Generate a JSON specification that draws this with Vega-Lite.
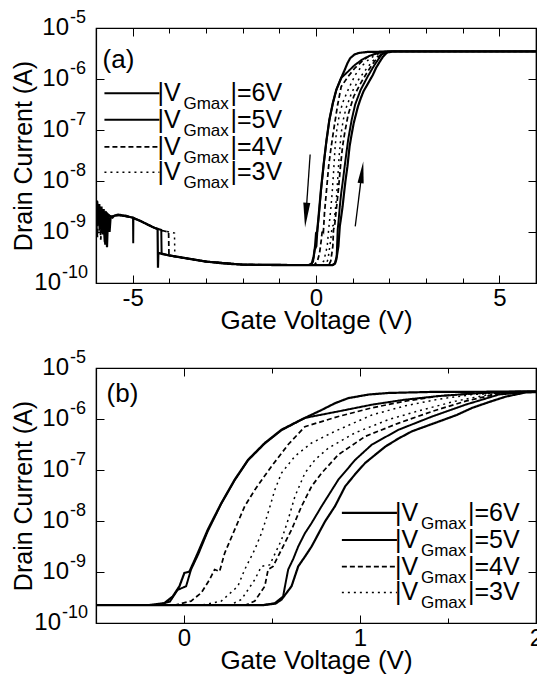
{
  "$schema": "https://vega.github.io/schema/vega-lite/v6.json",
  "background": "white",
  "padding": {"left": 10, "top": 8, "right": 0, "bottom": 0},
  "spacing": 14,
  "config": {
    "font": "Liberation Sans",
    "view": {"stroke": "black", "strokeWidth": 1.2},
    "axis": {
      "grid": false, "domainColor": "black", "domainWidth": 1.2, "tickColor": "black", "tickWidth": 1,
      "labelColor": "black", "titleColor": "black", "labelFont": "Liberation Sans", "titleFont": "Liberation Sans",
      "labelFontSize": 24, "titleFontSize": 25, "titleFontWeight": "normal", "labelFlush": false, "labelOverlap": false
    },
    "text": {"font": "Liberation Sans", "color": "black"}
  },
  "datasets": {
    "curves": [
      {"s":"6V","o":1,"v":-6.00,"i":2.82e-9},{"s":"6V","o":2,"v":-5.985,"i":4.2e-9},{"s":"6V","o":2.5,"v":-5.975,"i":1.3e-9},{"s":"6V","o":2.7,"v":-5.965,"i":3.98e-9},{"s":"6V","o":3,"v":-5.94,"i":1.585e-9},{"s":"6V","o":4,"v":-5.91,"i":3.55e-9},{"s":"6V","o":5,"v":-5.88,"i":1.12e-9},{"s":"6V","o":6,"v":-5.85,"i":3.16e-9},{"s":"6V","o":7,"v":-5.82,"i":8.91e-10},{"s":"6V","o":8,"v":-5.79,"i":2.82e-9},{"s":"6V","o":9,"v":-5.76,"i":6.31e-10},{"s":"6V","o":10,"v":-5.73,"i":2.51e-9},{"s":"6V","o":11,"v":-5.70,"i":5.01e-10},{"s":"6V","o":12,"v":-5.67,"i":2.24e-9},{"s":"6V","o":13,"v":-5.63,"i":1.0e-9},{"s":"6V","o":14,"v":-5.60,"i":2.0e-9},{"s":"6V","o":15,"v":-5.55,"i":1.91e-9},{"s":"6V","o":16,"v":-5.50,"i":2.09e-9},{"s":"6V","o":17,"v":-5.40,"i":2.19e-9},{"s":"6V","o":18,"v":-5.20,"i":2.09e-9},{"s":"6V","o":19,"v":-5.00,"i":1.91e-9},{"s":"6V","o":20,"v":-4.80,"i":1.66e-9},{"s":"6V","o":21,"v":-4.60,"i":1.41e-9},{"s":"6V","o":22,"v":-4.40,"i":1.20e-9},{"s":"6V","o":23,"v":-4.32,"i":1.15e-9},{"s":"6V","o":24,"v":-4.31,"i":2.0e-10},{"s":"6V","o":25,"v":-4.30,"i":3.89e-10},{"s":"6V","o":26,"v":-4.0,"i":3.47e-10},{"s":"6V","o":27,"v":-3.5,"i":3.02e-10},{"s":"6V","o":28,"v":-3.0,"i":2.63e-10},{"s":"6V","o":29,"v":-2.5,"i":2.40e-10},{"s":"6V","o":30,"v":-2.0,"i":2.29e-10},{"s":"6V","o":31,"v":-1.0,"i":2.24e-10},{"s":"6V","o":32,"v":0.45,"i":2.24e-10},
      {"s":"6V","o":33,"v":0.52,"i":2.40e-10},{"s":"6V","o":34,"v":0.554,"i":2.88e-10},{"s":"6V","o":35,"v":0.611,"i":5.25e-10},{"s":"6V","o":36,"v":0.649,"i":1.29e-9},{"s":"6V","o":37,"v":0.687,"i":2.0e-9},{"s":"6V","o":38,"v":0.725,"i":3.16e-9},{"s":"6V","o":39,"v":0.801,"i":9.77e-9},{"s":"6V","o":40,"v":0.858,"i":1.95e-8},{"s":"6V","o":41,"v":0.916,"i":4.79e-8},{"s":"6V","o":42,"v":0.973,"i":8.32e-8},{"s":"6V","o":43,"v":1.03,"i":1.38e-7},{"s":"6V","o":44,"v":1.144,"i":2.88e-7},{"s":"6V","o":45,"v":1.22,"i":4.17e-7},{"s":"6V","o":46,"v":1.296,"i":5.75e-7},{"s":"6V","o":47,"v":1.448,"i":8.91e-7},{"s":"6V","o":48,"v":1.55,"i":1.20e-6},{"s":"6V","o":49,"v":1.639,"i":1.66e-6},{"s":"6V","o":50,"v":1.74,"i":2.19e-6},{"s":"6V","o":51,"v":1.829,"i":2.75e-6},{"s":"6V","o":52,"v":1.94,"i":3.31e-6},{"s":"6V","o":53,"v":2.1,"i":3.47e-6},{"s":"6V","o":54,"v":6.0,"i":3.47e-6},
      {"s":"6V","o":55,"v":2.1,"i":3.47e-6},{"s":"6V","o":56,"v":1.4,"i":3.39e-6},{"s":"6V","o":57,"v":1.163,"i":3.24e-6},{"s":"6V","o":58,"v":1.05,"i":3.02e-6},{"s":"6V","o":59,"v":0.934,"i":2.57e-6},{"s":"6V","o":60,"v":0.858,"i":2.04e-6},{"s":"6V","o":61,"v":0.783,"i":1.51e-6},{"s":"6V","o":62,"v":0.668,"i":9.77e-7},{"s":"6V","o":63,"v":0.554,"i":6.17e-7},{"s":"6V","o":64,"v":0.459,"i":3.39e-7},{"s":"6V","o":65,"v":0.364,"i":1.585e-7},{"s":"6V","o":66,"v":0.288,"i":6.46e-8},{"s":"6V","o":67,"v":0.212,"i":2.24e-8},{"s":"6V","o":68,"v":0.135,"i":6.76e-9},{"s":"6V","o":69,"v":0.078,"i":2.34e-9},{"s":"6V","o":70,"v":0.031,"i":1.02e-9},{"s":"6V","o":71,"v":0.002,"i":9.55e-10},{"s":"6V","o":72,"v":-0.026,"i":5.25e-10},{"s":"6V","o":73,"v":-0.064,"i":3.31e-10},{"s":"6V","o":74,"v":-0.112,"i":2.45e-10},{"s":"6V","o":75,"v":-0.2,"i":2.24e-10},{"s":"6V","o":76,"v":-2.0,"i":2.29e-10},{"s":"6V","o":77,"v":-3.0,"i":2.63e-10},{"s":"6V","o":78,"v":-4.0,"i":3.47e-10},{"s":"6V","o":79,"v":-4.30,"i":3.89e-10},

      {"s":"5V","o":1,"v":-6.00,"i":1.12e-9},{"s":"5V","o":2,"v":-5.95,"i":3.16e-9},{"s":"5V","o":3,"v":-5.90,"i":1.07e-9},{"s":"5V","o":4,"v":-5.85,"i":2.51e-9},{"s":"5V","o":5,"v":-5.80,"i":2.24e-9},{"s":"5V","o":6,"v":-5.75,"i":5.62e-10},{"s":"5V","o":7,"v":-5.72,"i":2.40e-9},{"s":"5V","o":8,"v":-5.60,"i":2.0e-9},{"s":"5V","o":9,"v":-5.40,"i":2.14e-9},{"s":"5V","o":10,"v":-5.20,"i":2.04e-9},{"s":"5V","o":11,"v":-4.99,"i":1.91e-9},{"s":"5V","o":12,"v":-4.985,"i":6.03e-10},{"s":"5V","o":13,"v":-4.98,"i":1.86e-9},{"s":"5V","o":14,"v":-4.80,"i":1.66e-9},{"s":"5V","o":15,"v":-4.60,"i":1.41e-9},{"s":"5V","o":16,"v":-4.40,"i":1.20e-9},{"s":"5V","o":17,"v":-4.22,"i":1.10e-9},{"s":"5V","o":18,"v":-4.21,"i":3.72e-10},{"s":"5V","o":19,"v":-4.0,"i":3.47e-10},{"s":"5V","o":20,"v":-3.0,"i":2.63e-10},{"s":"5V","o":21,"v":-2.0,"i":2.29e-10},{"s":"5V","o":22,"v":0.45,"i":2.24e-10},
      {"s":"5V","o":23,"v":0.516,"i":2.45e-10},{"s":"5V","o":24,"v":0.563,"i":3.31e-10},{"s":"5V","o":25,"v":0.577,"i":6.03e-10},{"s":"5V","o":26,"v":0.592,"i":1.12e-9},{"s":"5V","o":27,"v":0.62,"i":1.78e-9},{"s":"5V","o":28,"v":0.649,"i":3.16e-9},{"s":"5V","o":29,"v":0.687,"i":5.75e-9},{"s":"5V","o":30,"v":0.725,"i":9.12e-9},{"s":"5V","o":31,"v":0.782,"i":1.95e-8},{"s":"5V","o":32,"v":0.877,"i":6.46e-8},{"s":"5V","o":33,"v":0.973,"i":1.585e-7},{"s":"5V","o":34,"v":1.068,"i":3.16e-7},{"s":"5V","o":35,"v":1.22,"i":6.17e-7},{"s":"5V","o":36,"v":1.41,"i":1.12e-6},{"s":"5V","o":37,"v":1.60,"i":1.91e-6},{"s":"5V","o":38,"v":1.79,"i":3.02e-6},{"s":"5V","o":39,"v":1.95,"i":3.39e-6},{"s":"5V","o":40,"v":2.1,"i":3.47e-6},{"s":"5V","o":41,"v":6.0,"i":3.47e-6},
      {"s":"5V","o":42,"v":2.1,"i":3.47e-6},{"s":"5V","o":43,"v":1.9,"i":3.47e-6},{"s":"5V","o":44,"v":1.639,"i":3.16e-6},{"s":"5V","o":45,"v":1.448,"i":2.82e-6},{"s":"5V","o":46,"v":1.258,"i":2.40e-6},{"s":"5V","o":47,"v":1.068,"i":1.91e-6},{"s":"5V","o":48,"v":0.877,"i":1.41e-6},{"s":"5V","o":49,"v":0.687,"i":1.05e-6},{"s":"5V","o":50,"v":0.554,"i":6.03e-7},{"s":"5V","o":51,"v":0.459,"i":3.31e-7},{"s":"5V","o":52,"v":0.364,"i":1.55e-7},{"s":"5V","o":53,"v":0.288,"i":6.31e-8},{"s":"5V","o":54,"v":0.212,"i":2.19e-8},{"s":"5V","o":55,"v":0.135,"i":6.31e-9},{"s":"5V","o":56,"v":0.08,"i":2.19e-9},{"s":"5V","o":57,"v":0.04,"i":1.12e-9},{"s":"5V","o":58,"v":0.012,"i":5.25e-10},{"s":"5V","o":59,"v":-0.036,"i":4.47e-10},{"s":"5V","o":60,"v":-0.08,"i":2.63e-10},{"s":"5V","o":61,"v":-0.15,"i":2.24e-10},{"s":"5V","o":62,"v":-2.0,"i":2.29e-10},{"s":"5V","o":63,"v":-3.0,"i":2.63e-10},{"s":"5V","o":64,"v":-4.0,"i":3.47e-10},{"s":"5V","o":65,"v":-4.21,"i":3.72e-10},

      {"s":"4V","o":1,"v":-6.00,"i":2.0e-9},{"s":"4V","o":2,"v":-5.96,"i":7.94e-10},{"s":"4V","o":3,"v":-5.92,"i":3.55e-9},{"s":"4V","o":4,"v":-5.87,"i":7.08e-10},{"s":"4V","o":5,"v":-5.83,"i":2.51e-9},{"s":"4V","o":6,"v":-5.78,"i":1.26e-9},{"s":"4V","o":7,"v":-5.74,"i":2.40e-9},{"s":"4V","o":8,"v":-5.60,"i":2.0e-9},{"s":"4V","o":9,"v":-5.40,"i":2.14e-9},{"s":"4V","o":10,"v":-5.20,"i":2.04e-9},{"s":"4V","o":11,"v":-5.00,"i":1.91e-9},{"s":"4V","o":12,"v":-4.80,"i":1.66e-9},{"s":"4V","o":13,"v":-4.60,"i":1.41e-9},{"s":"4V","o":14,"v":-4.40,"i":1.20e-9},{"s":"4V","o":15,"v":-4.20,"i":1.07e-9},{"s":"4V","o":16,"v":-4.02,"i":1.0e-9},{"s":"4V","o":17,"v":-4.01,"i":3.47e-10},{"s":"4V","o":18,"v":-3.0,"i":2.63e-10},{"s":"4V","o":19,"v":-2.0,"i":2.29e-10},{"s":"4V","o":20,"v":0.35,"i":2.24e-10},
      {"s":"4V","o":21,"v":0.402,"i":2.69e-10},{"s":"4V","o":22,"v":0.459,"i":5.25e-10},{"s":"4V","o":23,"v":0.478,"i":1.12e-9},{"s":"4V","o":24,"v":0.506,"i":1.29e-9},{"s":"4V","o":25,"v":0.554,"i":2.75e-9},{"s":"4V","o":26,"v":0.611,"i":6.76e-9},{"s":"4V","o":27,"v":0.668,"i":1.95e-8},{"s":"4V","o":28,"v":0.725,"i":4.79e-8},{"s":"4V","o":29,"v":0.782,"i":8.71e-8},{"s":"4V","o":30,"v":0.877,"i":2.0e-7},{"s":"4V","o":31,"v":1.03,"i":4.57e-7},{"s":"4V","o":32,"v":1.22,"i":8.32e-7},{"s":"4V","o":33,"v":1.41,"i":1.41e-6},{"s":"4V","o":34,"v":1.60,"i":2.24e-6},{"s":"4V","o":35,"v":1.79,"i":3.16e-6},{"s":"4V","o":36,"v":1.95,"i":3.47e-6},{"s":"4V","o":37,"v":6.0,"i":3.47e-6},
      {"s":"4V","o":38,"v":1.95,"i":3.47e-6},{"s":"4V","o":39,"v":1.733,"i":3.31e-6},{"s":"4V","o":40,"v":1.448,"i":2.82e-6},{"s":"4V","o":41,"v":1.258,"i":2.24e-6},{"s":"4V","o":42,"v":1.068,"i":1.66e-6},{"s":"4V","o":43,"v":0.877,"i":1.12e-6},{"s":"4V","o":44,"v":0.687,"i":7.08e-7},{"s":"4V","o":45,"v":0.592,"i":3.16e-7},{"s":"4V","o":46,"v":0.497,"i":1.175e-7},{"s":"4V","o":47,"v":0.449,"i":6.92e-8},{"s":"4V","o":48,"v":0.402,"i":4.07e-8},{"s":"4V","o":49,"v":0.345,"i":1.95e-8},{"s":"4V","o":50,"v":0.288,"i":6.76e-9},{"s":"4V","o":51,"v":0.231,"i":2.34e-9},{"s":"4V","o":52,"v":0.202,"i":1.02e-9},{"s":"4V","o":53,"v":0.174,"i":1.12e-9},{"s":"4V","o":54,"v":0.145,"i":7.08e-10},{"s":"4V","o":55,"v":0.098,"i":3.89e-10},{"s":"4V","o":56,"v":0.04,"i":2.69e-10},{"s":"4V","o":57,"v":-0.05,"i":2.24e-10},{"s":"4V","o":58,"v":-2.0,"i":2.29e-10},{"s":"4V","o":59,"v":-3.0,"i":2.63e-10},{"s":"4V","o":60,"v":-4.01,"i":3.47e-10},

      {"s":"3V","o":1,"v":-6.00,"i":2.51e-9},{"s":"3V","o":2,"v":-5.95,"i":1.26e-9},{"s":"3V","o":3,"v":-5.90,"i":3.16e-9},{"s":"3V","o":4,"v":-5.86,"i":8.91e-10},{"s":"3V","o":5,"v":-5.81,"i":2.82e-9},{"s":"3V","o":6,"v":-5.77,"i":1.41e-9},{"s":"3V","o":7,"v":-5.72,"i":2.24e-9},{"s":"3V","o":8,"v":-5.60,"i":2.0e-9},{"s":"3V","o":9,"v":-5.40,"i":2.14e-9},{"s":"3V","o":10,"v":-5.20,"i":2.04e-9},{"s":"3V","o":11,"v":-5.00,"i":1.91e-9},{"s":"3V","o":12,"v":-4.80,"i":1.66e-9},{"s":"3V","o":13,"v":-4.60,"i":1.41e-9},{"s":"3V","o":14,"v":-4.40,"i":1.20e-9},{"s":"3V","o":15,"v":-4.20,"i":1.07e-9},{"s":"3V","o":16,"v":-4.00,"i":1.0e-9},{"s":"3V","o":17,"v":-3.86,"i":9.55e-10},{"s":"3V","o":18,"v":-3.85,"i":3.31e-10},{"s":"3V","o":19,"v":-3.0,"i":2.63e-10},{"s":"3V","o":20,"v":-2.0,"i":2.29e-10},{"s":"3V","o":21,"v":0.26,"i":2.24e-10},
      {"s":"3V","o":22,"v":0.326,"i":2.88e-10},{"s":"3V","o":23,"v":0.402,"i":7.08e-10},{"s":"3V","o":24,"v":0.44,"i":1.29e-9},{"s":"3V","o":25,"v":0.487,"i":1.38e-9},{"s":"3V","o":26,"v":0.554,"i":4.27e-9},{"s":"3V","o":27,"v":0.592,"i":1.07e-8},{"s":"3V","o":28,"v":0.63,"i":3.02e-8},{"s":"3V","o":29,"v":0.687,"i":8.71e-8},{"s":"3V","o":30,"v":0.744,"i":1.585e-7},{"s":"3V","o":31,"v":0.82,"i":2.69e-7},{"s":"3V","o":32,"v":0.973,"i":5.37e-7},{"s":"3V","o":33,"v":1.163,"i":9.77e-7},{"s":"3V","o":34,"v":1.353,"i":1.51e-6},{"s":"3V","o":35,"v":1.543,"i":2.24e-6},{"s":"3V","o":36,"v":1.733,"i":3.02e-6},{"s":"3V","o":37,"v":1.924,"i":3.39e-6},{"s":"3V","o":38,"v":2.1,"i":3.47e-6},{"s":"3V","o":39,"v":6.0,"i":3.47e-6},
      {"s":"3V","o":40,"v":2.1,"i":3.47e-6},{"s":"3V","o":41,"v":1.9,"i":3.39e-6},{"s":"3V","o":42,"v":1.639,"i":3.02e-6},{"s":"3V","o":43,"v":1.448,"i":2.45e-6},{"s":"3V","o":44,"v":1.258,"i":1.82e-6},{"s":"3V","o":45,"v":1.068,"i":1.20e-6},{"s":"3V","o":46,"v":0.858,"i":5.75e-7},{"s":"3V","o":47,"v":0.725,"i":3.39e-7},{"s":"3V","o":48,"v":0.63,"i":1.86e-7},{"s":"3V","o":49,"v":0.554,"i":8.71e-8},{"s":"3V","o":50,"v":0.516,"i":4.07e-8},{"s":"3V","o":51,"v":0.478,"i":1.445e-8},{"s":"3V","o":52,"v":0.44,"i":5.75e-9},{"s":"3V","o":53,"v":0.402,"i":2.75e-9},{"s":"3V","o":54,"v":0.345,"i":1.12e-9},{"s":"3V","o":55,"v":0.306,"i":5.25e-10},{"s":"3V","o":56,"v":0.212,"i":2.69e-10},{"s":"3V","o":57,"v":0.1,"i":2.24e-10},{"s":"3V","o":58,"v":-2.0,"i":2.29e-10},{"s":"3V","o":59,"v":-3.0,"i":2.63e-10},{"s":"3V","o":60,"v":-3.85,"i":3.31e-10}
    ],
    "ylab": [
      {"i":1e-5,"e":"-5"},{"i":1e-6,"e":"-6"},{"i":1e-7,"e":"-7"},{"i":1e-8,"e":"-8"},{"i":1e-9,"e":"-9"},{"i":1e-10,"e":"-10"}
    ],
    "legA": [
      {"s":"6V","x1":-5.77,"x2":-4.27,"i":5.25e-7,"lab":"|=6V"},
      {"s":"5V","x1":-5.77,"x2":-4.27,"i":1.585e-7,"lab":"|=5V"},
      {"s":"4V","x1":-5.77,"x2":-4.27,"i":4.68e-8,"lab":"|=4V"},
      {"s":"3V","x1":-5.77,"x2":-4.27,"i":1.48e-8,"lab":"|=3V"}
    ],
    "legB": [
      {"s":"6V","x1":0.897,"x2":1.21,"i":1.44e-8,"lab":"|=6V"},
      {"s":"5V","x1":0.897,"x2":1.21,"i":4.26e-9,"lab":"|=5V"},
      {"s":"4V","x1":0.897,"x2":1.21,"i":1.28e-9,"lab":"|=4V"},
      {"s":"3V","x1":0.897,"x2":1.21,"i":3.97e-10,"lab":"|=3V"}
    ]
  },
  "vconcat": [
    {
      "width": 440, "height": 255,
      "resolve": {"axis": {"x": "independent", "y": "independent"}},
      "layer": [
        {
          "data": {"name": "curves"},
          "mark": {"type": "line", "color": "black", "clip": true},
          "encoding": {
            "x": {"field": "v", "type": "quantitative", "scale": {"domain": [-6, 6], "nice": false, "zero": false},
              "axis": {"orient": "bottom", "values": [-6,-5,-4,-3,-2,-1,0,1,2,3,4,5,6],
                "labelExpr": "datum.value == -5 ? '-5' : (datum.value == 0 ? '0' : (datum.value == 5 ? '5' : ''))",
                "tickSize": {"condition": {"test": "datum.value == -5 || datum.value == 0 || datum.value == 5", "value": -8}, "value": -5},
                "labelPadding": 11, "title": "Gate Voltage (V)", "titleFontSize": 26, "titlePadding": -6}},
            "y": {"field": "i", "type": "quantitative", "scale": {"type": "log", "domain": [1e-10, 1e-5], "nice": false},
              "axis": {"orient": "left", "values": [1e-10,1e-9,1e-8,1e-7,1e-6,1e-5], "labels": false,
                "tickSize": -8, "title": "Drain Current (A)", "titlePadding": 59}},
            "order": {"field": "o", "type": "quantitative"},
            "strokeDash": {"field": "s", "type": "nominal", "scale": {"domain": ["6V","5V","4V","3V"], "range": [[1,0],[1,0],[5,3],[2,4]]}, "legend": null},
            "strokeWidth": {"field": "s", "type": "nominal", "scale": {"domain": ["6V","5V","4V","3V"], "range": [2.2,1.5,1.3,1.3]}, "legend": null}
          }
        },
        {
          "data": {"name": "legA"},
          "mark": {"type": "rule", "color": "black"},
          "encoding": {
            "x": {"field": "x1", "type": "quantitative",
              "axis": {"orient": "top", "values": [-6,-5,-4,-3,-2,-1,0,1,2,3,4,5,6], "labels": false, "title": null,
                "tickSize": {"condition": {"test": "datum.value == -5 || datum.value == 0 || datum.value == 5", "value": -8}, "value": -5}}},
            "x2": {"field": "x2"},
            "y": {"field": "i", "type": "quantitative",
              "axis": {"orient": "right", "values": [1e-10,1e-9,1e-8,1e-7,1e-6,1e-5], "labels": false, "title": null, "tickSize": -8}},
            "strokeDash": {"field": "s", "type": "nominal", "legend": null},
            "strokeWidth": {"field": "s", "type": "nominal", "legend": null}
          }
        },
        {
          "data": {"name": "ylab"},
          "transform": [{"filter": "datum.e != '-10'"}],
          "mark": {"type": "text", "align": "right", "baseline": "middle", "fontSize": 24, "dx": -27},
          "encoding": {
            "x": {"datum": -6, "type": "quantitative", "axis": null},
            "y": {"field": "i", "type": "quantitative", "axis": null},
            "text": {"value": "10"}
          }
        },
        {
          "data": {"name": "ylab"},
          "transform": [{"filter": "datum.e != '-10'"}],
          "mark": {"type": "text", "align": "left", "baseline": "middle", "fontSize": 18, "dx": -26, "dy": -10},
          "encoding": {
            "x": {"datum": -6, "type": "quantitative", "axis": null},
            "y": {"field": "i", "type": "quantitative", "axis": null},
            "text": {"field": "e"}
          }
        },
        {
          "data": {"name": "ylab"},
          "transform": [{"filter": "datum.e == '-10'"}],
          "mark": {"type": "text", "align": "right", "baseline": "middle", "fontSize": 24, "dx": -35},
          "encoding": {
            "x": {"datum": -6, "type": "quantitative", "axis": null},
            "y": {"field": "i", "type": "quantitative", "axis": null},
            "text": {"value": "10"}
          }
        },
        {
          "data": {"name": "ylab"},
          "transform": [{"filter": "datum.e == '-10'"}],
          "mark": {"type": "text", "align": "left", "baseline": "middle", "fontSize": 18, "dx": -34, "dy": -10},
          "encoding": {
            "x": {"datum": -6, "type": "quantitative", "axis": null},
            "y": {"field": "i", "type": "quantitative", "axis": null},
            "text": {"field": "e"}
          }
        },
        {
          "data": {"name": "legA"},
          "mark": {"type": "text", "align": "left", "baseline": "middle", "fontSize": 25, "dx": -2},
          "encoding": {
            "x": {"field": "x2", "type": "quantitative", "axis": null},
            "y": {"field": "i", "type": "quantitative", "axis": null},
            "text": {"value": "|V"}
          }
        },
        {
          "data": {"name": "legA"},
          "mark": {"type": "text", "align": "left", "baseline": "middle", "fontSize": 17, "dx": 24, "dy": 11},
          "encoding": {
            "x": {"field": "x2", "type": "quantitative", "axis": null},
            "y": {"field": "i", "type": "quantitative", "axis": null},
            "text": {"value": "Gmax"}
          }
        },
        {
          "data": {"name": "legA"},
          "mark": {"type": "text", "align": "left", "baseline": "middle", "fontSize": 25, "dx": 71},
          "encoding": {
            "x": {"field": "x2", "type": "quantitative", "axis": null},
            "y": {"field": "i", "type": "quantitative", "axis": null},
            "text": {"field": "lab"}
          }
        },
        {
          "data": {"values": [{"xa": -0.16, "ia": 3.31e-8, "xb": -0.275, "ib": 2.14e-9}, {"xa": 1.07, "ia": 1.29e-9, "xb": 1.253, "ib": 1.48e-8}]},
          "mark": {"type": "rule", "color": "black", "strokeWidth": 1.3},
          "encoding": {
            "x": {"field": "xa", "type": "quantitative", "axis": null},
            "y": {"field": "ia", "type": "quantitative", "axis": null},
            "x2": {"field": "xb"},
            "y2": {"field": "ib"}
          }
        },
        {
          "data": {"values": [{"xh": -0.275, "ih": 2.14e-9}]},
          "mark": {"type": "point", "filled": true, "color": "black", "opacity": 1, "size": 625, "angle": 4, "shape": "M -0.28 -1 L 0.28 -1 L 0 1 Z"},
          "encoding": {
            "x": {"field": "xh", "type": "quantitative", "axis": null},
            "y": {"field": "ih", "type": "quantitative", "axis": null}
          }
        },
        {
          "data": {"values": [{"xh": 1.253, "ih": 1.48e-8}]},
          "mark": {"type": "point", "filled": true, "color": "black", "opacity": 1, "size": 484, "angle": 7, "shape": "M -0.28 1 L 0.28 1 L 0 -1 Z"},
          "encoding": {
            "x": {"field": "xh", "type": "quantitative", "axis": null},
            "y": {"field": "ih", "type": "quantitative", "axis": null}
          }
        },
        {
          "data": {"values": [{"t": "(a)", "xt": -5.82, "it": 2.34e-6}]},
          "mark": {"type": "text", "align": "left", "baseline": "middle", "fontSize": 26},
          "encoding": {
            "x": {"field": "xt", "type": "quantitative", "axis": null},
            "y": {"field": "it", "type": "quantitative", "axis": null},
            "text": {"field": "t"}
          }
        }
      ]
    },
    {
      "width": 440, "height": 255,
      "resolve": {"axis": {"x": "independent", "y": "independent"}},
      "layer": [
        {
          "data": {"name": "curves"},
          "mark": {"type": "line", "color": "black", "clip": true},
          "encoding": {
            "x": {"field": "v", "type": "quantitative", "scale": {"domain": [-0.5, 2], "nice": false, "zero": false},
              "axis": {"orient": "bottom", "values": [-0.5,0,0.5,1,1.5,2],
                "labelExpr": "datum.value == 0 ? '0' : (datum.value == 1 ? '1' : (datum.value == 2 ? '2' : ''))",
                "tickSize": {"condition": {"test": "datum.value == 0 || datum.value == 1 || datum.value == 2", "value": -8}, "value": -5},
                "labelPadding": 11, "title": "Gate Voltage (V)", "titleFontSize": 26, "titlePadding": -6}},
            "y": {"field": "i", "type": "quantitative", "scale": {"type": "log", "domain": [1e-10, 1e-5], "nice": false},
              "axis": {"orient": "left", "values": [1e-10,1e-9,1e-8,1e-7,1e-6,1e-5], "labels": false,
                "tickSize": -8, "title": "Drain Current (A)", "titlePadding": 59}},
            "order": {"field": "o", "type": "quantitative"},
            "strokeDash": {"field": "s", "type": "nominal", "scale": {"domain": ["6V","5V","4V","3V"], "range": [[1,0],[1,0],[5,3],[2,4]]}, "legend": null},
            "strokeWidth": {"field": "s", "type": "nominal", "scale": {"domain": ["6V","5V","4V","3V"], "range": [2.2,1.2,1.3,1.3]}, "legend": null}
          }
        },
        {
          "data": {"name": "legB"},
          "mark": {"type": "rule", "color": "black"},
          "encoding": {
            "x": {"field": "x1", "type": "quantitative",
              "axis": {"orient": "top", "values": [-0.5,0,0.5,1,1.5,2], "labels": false, "title": null,
                "tickSize": {"condition": {"test": "datum.value == 0 || datum.value == 1 || datum.value == 2", "value": -8}, "value": -5}}},
            "x2": {"field": "x2"},
            "y": {"field": "i", "type": "quantitative",
              "axis": {"orient": "right", "values": [1e-10,1e-9,1e-8,1e-7,1e-6,1e-5], "labels": false, "title": null, "tickSize": -8}},
            "strokeDash": {"field": "s", "type": "nominal", "legend": null},
            "strokeWidth": {"field": "s", "type": "nominal", "legend": null}
          }
        },
        {
          "data": {"name": "ylab"},
          "transform": [{"filter": "datum.e != '-10'"}],
          "mark": {"type": "text", "align": "right", "baseline": "middle", "fontSize": 24, "dx": -27},
          "encoding": {
            "x": {"datum": -0.5, "type": "quantitative", "axis": null},
            "y": {"field": "i", "type": "quantitative", "axis": null},
            "text": {"value": "10"}
          }
        },
        {
          "data": {"name": "ylab"},
          "transform": [{"filter": "datum.e != '-10'"}],
          "mark": {"type": "text", "align": "left", "baseline": "middle", "fontSize": 18, "dx": -26, "dy": -10},
          "encoding": {
            "x": {"datum": -0.5, "type": "quantitative", "axis": null},
            "y": {"field": "i", "type": "quantitative", "axis": null},
            "text": {"field": "e"}
          }
        },
        {
          "data": {"name": "ylab"},
          "transform": [{"filter": "datum.e == '-10'"}],
          "mark": {"type": "text", "align": "right", "baseline": "middle", "fontSize": 24, "dx": -35},
          "encoding": {
            "x": {"datum": -0.5, "type": "quantitative", "axis": null},
            "y": {"field": "i", "type": "quantitative", "axis": null},
            "text": {"value": "10"}
          }
        },
        {
          "data": {"name": "ylab"},
          "transform": [{"filter": "datum.e == '-10'"}],
          "mark": {"type": "text", "align": "left", "baseline": "middle", "fontSize": 18, "dx": -34, "dy": -10},
          "encoding": {
            "x": {"datum": -0.5, "type": "quantitative", "axis": null},
            "y": {"field": "i", "type": "quantitative", "axis": null},
            "text": {"field": "e"}
          }
        },
        {
          "data": {"name": "legB"},
          "mark": {"type": "text", "align": "left", "baseline": "middle", "fontSize": 25, "dx": -2},
          "encoding": {
            "x": {"field": "x2", "type": "quantitative", "axis": null},
            "y": {"field": "i", "type": "quantitative", "axis": null},
            "text": {"value": "|V"}
          }
        },
        {
          "data": {"name": "legB"},
          "mark": {"type": "text", "align": "left", "baseline": "middle", "fontSize": 17, "dx": 24, "dy": 11},
          "encoding": {
            "x": {"field": "x2", "type": "quantitative", "axis": null},
            "y": {"field": "i", "type": "quantitative", "axis": null},
            "text": {"value": "Gmax"}
          }
        },
        {
          "data": {"name": "legB"},
          "mark": {"type": "text", "align": "left", "baseline": "middle", "fontSize": 25, "dx": 71},
          "encoding": {
            "x": {"field": "x2", "type": "quantitative", "axis": null},
            "y": {"field": "i", "type": "quantitative", "axis": null},
            "text": {"field": "lab"}
          }
        },
        {
          "data": {"values": [{"t": "(b)", "xt": -0.44, "it": 3.16e-6}]},
          "mark": {"type": "text", "align": "left", "baseline": "middle", "fontSize": 26},
          "encoding": {
            "x": {"field": "xt", "type": "quantitative", "axis": null},
            "y": {"field": "it", "type": "quantitative", "axis": null},
            "text": {"field": "t"}
          }
        }
      ]
    }
  ]
}
